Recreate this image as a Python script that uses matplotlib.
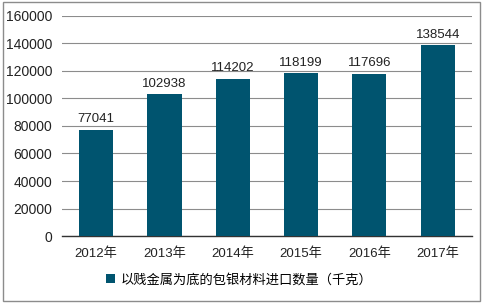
import matplotlib
matplotlib.use("Agg")
import matplotlib.pyplot as plt
from matplotlib.patches import Rectangle

plt.rcParams['font.family'] = ['Liberation Sans', 'Noto Sans CJK SC', 'DejaVu Sans']

years = ["2012年", "2013年", "2014年", "2015年", "2016年", "2017年"]
values = [77041, 102938, 114202, 118199, 117696, 138544]
series_name = "以贱金属为底的包银材料进口数量（千克）"
bar_color = "#00546f"

fig = plt.figure(figsize=(4.88, 3.05), dpi=100)
ax = fig.add_axes([0.127, 0.226, 0.84, 0.722])

x = range(len(years))
bars = ax.bar(x, values, width=0.5, color=bar_color, label=series_name, zorder=3)
for xi, v in zip(x, values):
    ax.text(xi, v + 3500, str(v), ha="center", va="bottom", fontsize=9.5, color="#222222")

ax.set_ylim(0, 160000)
ax.set_xlim(-0.5, len(years) - 0.5)
ax.set_yticks(range(0, 160001, 20000))
ax.set_xticks(list(x))
ax.set_xticklabels(years)
ax.tick_params(axis="both", length=0, colors="#222222")
ax.tick_params(axis="y", pad=7, labelsize=10)
ax.tick_params(axis="x", pad=8, labelsize=9.5)
ax.grid(axis="y", color="#8c8c8c", linewidth=0.8, zorder=0)
for s in ["left", "right", "top"]:
    ax.spines[s].set_visible(False)
ax.spines["bottom"].set_color("#333333")
ax.spines["bottom"].set_linewidth(1)

fig.legend(handles=[bars], labels=[series_name], loc="center", bbox_to_anchor=(0.49, 0.082),
           frameon=False, fontsize=9.5, handlelength=0.7, handleheight=0.7, handletextpad=0.4)

fig.patches.append(Rectangle((3 / 488, 1 - 301 / 305), 477 / 488, 299 / 305, transform=fig.transFigure,
                             fill=False, edgecolor="#8c8c8c", linewidth=1))

fig.savefig("out.png", dpi=100)
